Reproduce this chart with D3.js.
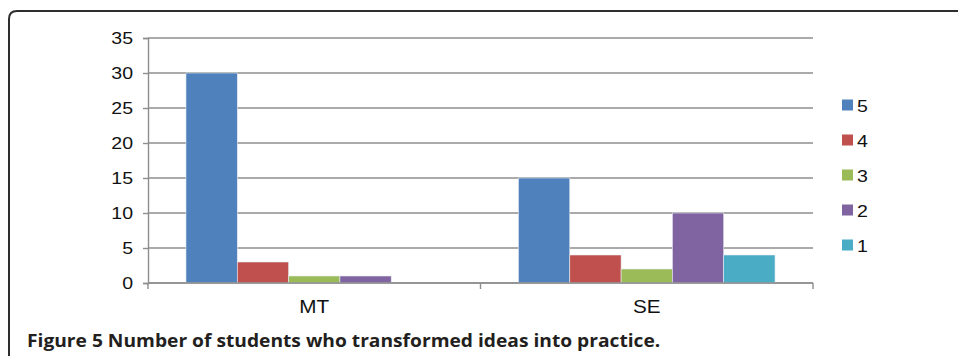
<!DOCTYPE html>
<html>
<head>
<meta charset="utf-8">
<script src="https://cdn.jsdelivr.net/npm/d3@7/dist/d3.min.js"></script>
<style>
  html, body { margin: 0; padding: 0; background: #fff; }
  svg { display: block; }
</style>
</head>
<body>
<svg id="chart" width="958" height="356"></svg>
<script>
// Students per rating score, grouped by course
const categories = ["MT", "SE"];
const seriesNames = ["5", "4", "3", "2", "1"];
const seriesColors = ["#4F81BD", "#C0504D", "#9BBB59", "#8064A2", "#4BACC6"];
const valuesMT = [30, 3, 1, 1, 0];
const valuesSE = [15, 4, 2, 10, 4];
const yTicks = [0, 5, 10, 15, 20, 25, 30, 35];
const captionBold = "Figure 5 Number of students who transformed ideas into practice.";

const rows = categories.map((c, i) => ({
  category: c,
  values: [valuesMT, valuesSE][i]
}));

const svg = d3.select("#chart");
const labelFont = "Liberation Sans, Arial, sans-serif";
const widen = 1.15; // glyphs are set slightly wide

// Figure frame: left and top rule with a rounded corner
svg.append("path")
  .attr("d", "M9,356 V19 Q9,11 17,11 H958")
  .attr("fill", "none")
  .attr("stroke", "#2e2e2e")
  .attr("stroke-width", 2);

const plot = { left: 148, right: 813, top: 38, bottom: 283 };

const x = d3.scaleBand()
  .domain(categories)
  .range([plot.left, plot.right])
  .paddingInner(0).paddingOuter(0);

const xs = d3.scaleBand()
  .domain(seriesNames)
  .range([0, x.bandwidth()])
  .paddingInner(0).paddingOuter(0.74);

const y = d3.scaleLinear()
  .domain([0, 35])
  .range([plot.bottom, plot.top]);

const gridColor = "#8e8e8e";

// Horizontal gridlines
svg.append("g")
  .selectAll("line")
  .data(yTicks)
  .join("line")
  .attr("x1", plot.left).attr("x2", plot.right)
  .attr("y1", d => y(d)).attr("y2", d => y(d))
  .attr("stroke", gridColor)
  .attr("stroke-width", 1.4);

// Value axis
const yAxis = svg.append("g")
  .attr("transform", `translate(${plot.left},0)`)
  .call(d3.axisLeft(y).tickValues(yTicks).tickSize(5).tickPadding(11));
yAxis.select(".domain").attr("stroke", gridColor).attr("stroke-width", 1.4);
yAxis.selectAll(".tick line").attr("stroke", gridColor).attr("stroke-width", 1.4);
yAxis.selectAll(".tick text")
  .attr("x", 0)
  .attr("transform", `translate(-15,0) scale(${widen},1)`)
  .attr("fill", "#111")
  .style("font-family", labelFont)
  .style("font-size", "17px");

// Bars
const groups = svg.append("g")
  .selectAll("g")
  .data(rows)
  .join("g")
  .attr("transform", d => `translate(${x(d.category)},0)`);

groups.selectAll("rect")
  .data(d => d.values.map((v, i) => ({ key: seriesNames[i], value: v, color: seriesColors[i] })))
  .join("rect")
  .filter(d => d.value > 0)
  .attr("x", d => xs(d.key))
  .attr("width", xs.bandwidth())
  .attr("y", d => y(d.value))
  .attr("height", d => y(0) - y(d.value))
  .attr("fill", d => d.color)
  .attr("stroke", "#e8ecf2")
  .attr("stroke-width", 0.6);

// Category axis
const xAxis = svg.append("g")
  .attr("transform", `translate(0,${plot.bottom})`);
xAxis.append("line")
  .attr("x1", plot.left).attr("x2", plot.right)
  .attr("stroke", gridColor).attr("stroke-width", 1.4);
const boundaries = categories.map(c => x(c)).concat([x(categories[categories.length - 1]) + x.bandwidth()]);
xAxis.selectAll("line.tick")
  .data(boundaries)
  .join("line")
  .attr("class", "tick")
  .attr("x1", d => d).attr("x2", d => d)
  .attr("y1", 0).attr("y2", 6)
  .attr("stroke", gridColor).attr("stroke-width", 1.4);
xAxis.selectAll("text")
  .data(categories)
  .join("text")
  .attr("transform", d => `translate(${x(d) + x.bandwidth() / 2},30) scale(${widen},1)`)
  .attr("text-anchor", "middle")
  .attr("fill", "#111")
  .style("font-family", labelFont)
  .style("font-size", "18px")
  .text(d => d);

// Legend
const legend = svg.append("g").attr("transform", "translate(842,105)");
const items = legend.selectAll("g")
  .data(seriesNames)
  .join("g")
  .attr("transform", (d, i) => `translate(0,${i * 35})`);
items.append("rect")
  .attr("x", 0).attr("y", -5.5)
  .attr("width", 11).attr("height", 11)
  .attr("fill", (d, i) => seriesColors[i]);
items.append("text")
  .attr("transform", `translate(15,6.5) scale(${widen},1)`)
  .attr("fill", "#111")
  .style("font-family", labelFont)
  .style("font-size", "17px")
  .text(d => d);

// Caption
svg.append("text")
  .attr("transform", "translate(27,346.5) scale(1.13,1)")
  .attr("fill", "#231f20")
  .style("font-family", "Open Sans, sans-serif")
  .style("font-weight", "bold")
  .style("font-size", "17px")
  .text(captionBold);
</script>
</body>
</html>
